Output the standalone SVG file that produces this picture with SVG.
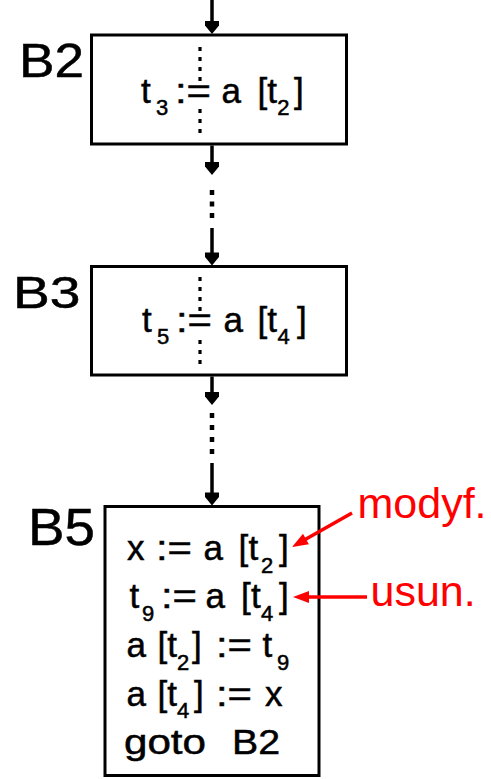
<svg xmlns="http://www.w3.org/2000/svg" width="491" height="779" viewBox="0 0 491 779">
<style>
text{font-family:"Liberation Sans",Arial,Helvetica,sans-serif;fill:#000}
.c{font-size:35px;stroke:#000;stroke-width:0.5}
.s{font-size:22px}
.lb{stroke:#000;stroke-width:0.5}
.red{fill:#f00;font-size:43px}
.box{fill:#fff;stroke:#000;stroke-width:3}
.conn{stroke:#000;stroke-width:3.5;fill:none}
.dot{stroke:#000;stroke-width:4.5;fill:none}
.vd{stroke:#000;stroke-width:3.2;stroke-dasharray:4 6;fill:none}
.rarr{stroke:#f00;stroke-width:3.5;fill:none}
</style>
<defs>
<marker id="ah" viewBox="-14 -8 16 16" refX="-6" refY="0" markerWidth="16" markerHeight="16" markerUnits="userSpaceOnUse" orient="auto">
<path d="M-13,-7 L-8.5,-7 L0,0 L-8.5,7 L-13,7 Z" fill="#000"/>
</marker>
<marker id="rah" viewBox="-17 -8 18 16" refX="-8" refY="0" markerWidth="18" markerHeight="16" markerUnits="userSpaceOnUse" orient="auto">
<path d="M-16,-6 L0,0 L-16,6 Z" fill="#f00"/>
</marker>
</defs>
<rect width="491" height="779" fill="#fff"/>

<g id="B2">
<rect class="box" x="91.5" y="35" width="255" height="109"/>
<text class="lb" x="19" y="77" font-size="49" textLength="65" lengthAdjust="spacingAndGlyphs">B2</text>
<line class="vd" x1="200" y1="47" x2="200" y2="81"/>
<line class="vd" x1="200" y1="109" x2="200" y2="133"/>
<text class="c"><tspan x="141" y="103">t</tspan><tspan class="s" x="156" y="115">3</tspan><tspan x="175" y="103" textLength="36" lengthAdjust="spacingAndGlyphs">:=</tspan><tspan x="221.5" y="103">a</tspan><tspan x="257.5" y="103">[</tspan><tspan x="267.3" y="103">t</tspan><tspan class="s" x="277.2" y="115">2</tspan><tspan x="294" y="103">]</tspan></text>
</g>

<g id="B3">
<rect class="box" x="91.5" y="266.5" width="255" height="108.5"/>
<text class="lb" x="13" y="308" font-size="44" textLength="67.5" lengthAdjust="spacingAndGlyphs">B3</text>
<line class="vd" x1="200" y1="277" x2="200" y2="311"/>
<line class="vd" x1="200" y1="340" x2="200" y2="364"/>
<text class="c"><tspan x="142" y="332">t</tspan><tspan class="s" x="157" y="344">5</tspan><tspan x="176" y="332" textLength="36" lengthAdjust="spacingAndGlyphs">:=</tspan><tspan x="223.5" y="332">a</tspan><tspan x="257.5" y="332">[</tspan><tspan x="267.3" y="332">t</tspan><tspan class="s" x="277.5" y="344">4</tspan><tspan x="297" y="332">]</tspan></text>
</g>

<g id="B5">
<rect class="box" x="105" y="506.5" width="214" height="269"/>
<text class="lb" x="28" y="545" font-size="51.5" textLength="67" lengthAdjust="spacingAndGlyphs">B5</text>
<text class="c"><tspan x="127" y="560">x</tspan><tspan x="156" y="560" textLength="36" lengthAdjust="spacingAndGlyphs">:=</tspan><tspan x="203.5" y="560">a</tspan><tspan x="238.5" y="560">[</tspan><tspan x="248.5" y="560">t</tspan><tspan class="s" x="261" y="572.5">2</tspan><tspan x="279" y="560">]</tspan></text>
<text class="c"><tspan x="129.5" y="608">t</tspan><tspan class="s" x="142" y="620.5">9</tspan><tspan x="161" y="608" textLength="36" lengthAdjust="spacingAndGlyphs">:=</tspan><tspan x="205.5" y="608">a</tspan><tspan x="241" y="608">[</tspan><tspan x="251" y="608">t</tspan><tspan class="s" x="261" y="620.5">4</tspan><tspan x="279" y="608">]</tspan></text>
<text class="c"><tspan x="126.5" y="657">a</tspan><tspan x="157.5" y="657">[</tspan><tspan x="167.2" y="657">t</tspan><tspan class="s" x="177" y="669.5">2</tspan><tspan x="192" y="657">]</tspan><tspan x="216" y="657" textLength="36" lengthAdjust="spacingAndGlyphs">:=</tspan><tspan x="262.5" y="657">t</tspan><tspan class="s" x="277" y="669.5">9</tspan></text>
<text class="c"><tspan x="126.5" y="705.5">a</tspan><tspan x="157.5" y="705.5">[</tspan><tspan x="167.2" y="705.5">t</tspan><tspan class="s" x="177" y="718">4</tspan><tspan x="194" y="705.5">]</tspan><tspan x="216" y="705.5" textLength="36" lengthAdjust="spacingAndGlyphs">:=</tspan><tspan x="265" y="705.5">x</tspan></text>
<text class="c"><tspan x="124" y="754" textLength="82" lengthAdjust="spacingAndGlyphs">goto</tspan><tspan x="232" y="754" textLength="48" lengthAdjust="spacingAndGlyphs">B2</tspan></text>
</g>

<g id="notes">
<text class="red" x="357.5" y="518">modyf.</text>
<text class="red" x="370.5" y="606">usun.</text>
</g>

<g id="connectors">
<line class="conn" x1="212" y1="0" x2="212" y2="28" marker-end="url(#ah)"/>
<line class="conn" x1="212" y1="145.5" x2="212" y2="169" marker-end="url(#ah)"/>
<line class="dot" x1="212" y1="190" x2="212" y2="219" stroke-dasharray="5 6.5"/>
<line class="conn" x1="212" y1="228" x2="212" y2="259.5" marker-end="url(#ah)"/>
<line class="conn" x1="212" y1="376.5" x2="212" y2="399" marker-end="url(#ah)"/>
<line class="dot" x1="212" y1="413" x2="212" y2="454" stroke-dasharray="5 7"/>
<line class="conn" x1="212" y1="463" x2="212" y2="499.5" marker-end="url(#ah)"/>
<line class="rarr" x1="352" y1="513" x2="299" y2="543" marker-end="url(#rah)"/>
<line class="rarr" x1="367" y1="597" x2="301" y2="597" marker-end="url(#rah)"/>
</g>
</svg>
